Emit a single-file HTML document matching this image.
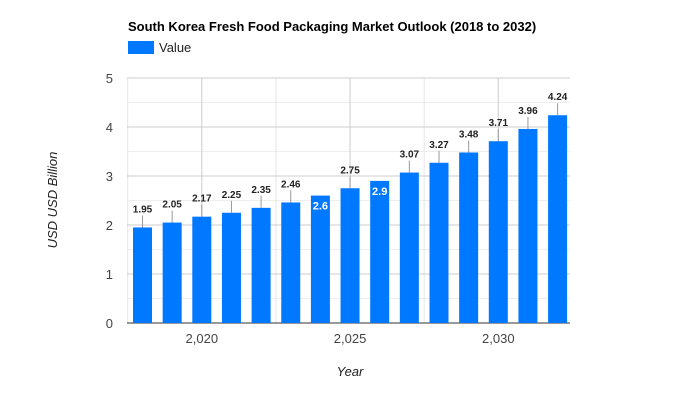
<!DOCTYPE html>
<html><head><meta charset="utf-8"><style>
body{margin:0;background:#fff;font-family:"Liberation Sans",Arial,sans-serif}
svg{display:block}
</style></head><body>
<svg id="c" width="700" height="400">
<text x="128" y="31" font-size="13" font-weight="bold" fill="#000">South Korea Fresh Food Packaging Market Outlook (2018 to 2032)</text>
<rect x="128" y="41" width="26" height="13" fill="#0078ff"/>
<text x="159" y="52" font-size="13" fill="#222">Value</text>
<g id="grid"></g><g id="bars"></g>
<text x="350" y="376" font-size="13" font-style="italic" fill="#222" text-anchor="middle">Year</text>
<text transform="translate(57,200) rotate(-90)" font-size="13" font-style="italic" fill="#222" text-anchor="middle">USD USD Billion</text>
</svg>
<script>
const years=[2018,2019,2020,2021,2022,2023,2024,2025,2026,2027,2028,2029,2030,2031,2032];
const values=[1.95,2.05,2.17,2.25,2.35,2.46,2.6,2.75,2.9,3.07,3.27,3.48,3.71,3.96,4.24];
const yTicks=[0,1,2,3,4,5];
const xTicks=[2020,2025,2030];
const insideLabels=[2024,2026];
const NS="http://www.w3.org/2000/svg";
const L=127,R=570,T=78,B=323;
const x=yr=>142.5+(yr-2018)*29.65;
const y=v=>B-(v/5)*(B-T);
function mk(tag,a,p){const e=document.createElementNS(NS,tag);for(const k in a)e.setAttribute(k,a[k]);p.appendChild(e);return e;}
const g=document.getElementById('grid'),bg=document.getElementById('bars');
for(let v=0.5;v<5;v+=1){const l=mk('line',{x1:L,x2:R,y1:y(v),y2:y(v),stroke:'#eee'},g);

}
[2017.5,2022.5,2027.5].forEach(t=>{const l=mk('line',{x1:x(t),x2:x(t),y1:T,y2:B,stroke:'#e6e6e6'},g);

});
yTicks.forEach(v=>{const l=mk('line',{x1:L,x2:R,y1:y(v),y2:y(v),stroke:v?'#ccc':'#333'},g);


const t=mk('text',{x:113,y:y(v)+5,'font-size':13,fill:'#444','text-anchor':'end'},g);t.textContent=v;

});
xTicks.forEach(v=>{const l=mk('line',{x1:x(v),x2:x(v),y1:T,y2:B,stroke:'#ccc'},g);


const t=mk('text',{x:x(v),y:343,'font-size':13,fill:'#444','text-anchor':'middle'},g);t.textContent=v.toLocaleString('en-US');

});
years.forEach((yr,i)=>{const v=values[i],cx=x(yr);
const b=mk('rect',{x:cx-9.5,y:y(v),width:19,height:B-y(v),fill:'#0078ff'},bg);


let t;
if(insideLabels.includes(yr)){t=mk('text',{x:cx,y:y(v)+14,'font-size':11,'font-weight':'bold',fill:'#fff','text-anchor':'middle'},bg);}
else{const l=mk('line',{x1:cx,x2:cx,y1:y(v),y2:y(v)-12,stroke:'#999'},bg);


t=mk('text',{x:cx,y:y(v)-15,'font-size':10,'font-weight':'bold',fill:'#222','text-anchor':'middle'},bg);}
t.textContent=v;

});
</script>
</body></html>
